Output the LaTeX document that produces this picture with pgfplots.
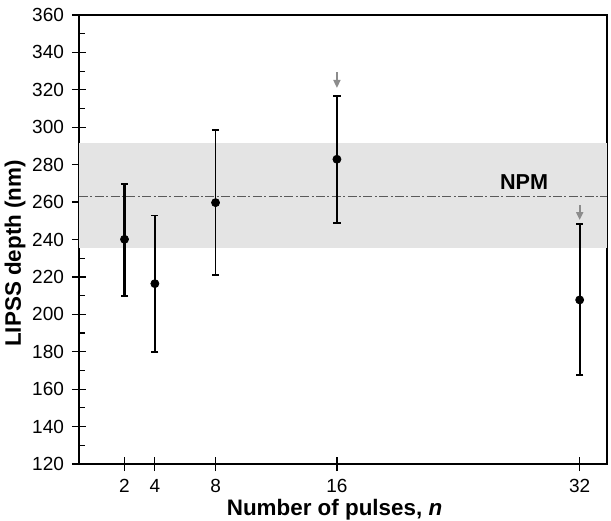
\documentclass[border=0pt]{standalone}
\usepackage{pgfplots}
\pgfplotsset{compat=1.18}
\usepackage{fontspec}
\setmainfont{Liberation Sans}
\usetikzlibrary{calc,arrows.meta}
\definecolor{bandgray}{HTML}{E4E4E4}
\definecolor{linegray}{HTML}{5A5A5A}
\definecolor{arrowgray}{HTML}{8C8C8C}
\begin{document}
\begin{tikzpicture}
\begin{axis}[
  scale only axis,
  width=264pt, height=224.5pt,
  xmin=-1, xmax=33.8, ymin=120, ymax=360,
  xtick={2,4,8,16,32},
  ytick={120,140,...,360},
  minor y tick num=1,
  xtick pos=left, ytick pos=left,
  tick align=center,
  major tick length=7pt,
  minor tick length=3pt,
  every tick/.style={black, line width=0.6pt},
  every minor tick/.append style={xshift=1.5pt},
  axis line style={line width=0.65pt},
  /pgf/number format/assume math mode=true,
  ticklabel style={font=\fontsize{9.5}{11}\selectfont},
  yticklabel style={xshift=-0.5pt},
  xticklabel style={yshift=-0.5pt},
  xlabel={\textbf{Number of pulses, \textit{n}}},
  ylabel={\textbf{LIPSS depth (nm)}},
  every axis x label/.style={at={(axis description cs:0.484,0)}, yshift=-25.5pt, anchor=base, font=\fontsize{11.2}{12}\selectfont},
  every axis y label/.style={at={(axis description cs:0,0.469)}, xshift=-32pt, rotate=90, anchor=center, font=\fontsize{11.2}{12}\selectfont},
  clip=false,
]
\addplot[draw=none, fill=bandgray] coordinates {(-1,235.3) (33.8,235.3) (33.8,291.7) (-1,291.7)} -- cycle;
\addplot[linegray, line width=0.5pt, dash pattern=on 4.5pt off 1.2pt on 1pt off 1.2pt] coordinates {(-1,263) (33.8,263)};
\addplot[black, only marks, mark=*, mark size=2pt,
  error bars/.cd, y dir=both, y explicit,
  error bar style={line width=1.1pt},
  error mark options={rotate=90, mark size=1.8pt, line width=0.9pt}]
  coordinates {(2,240.1) += (0,29.4) -= (0,30.1)};
\addplot[black, only marks, mark=*, mark size=2pt,
  error bars/.cd, y dir=both, y explicit,
  error bar style={line width=0.85pt},
  error mark options={rotate=90, mark size=1.8pt, line width=0.85pt}]
  coordinates {
  (4,216.4) += (0,36.5) -= (0,36.7)
  (8,259.7) += (0,38.7) -= (0,38.7)
  (16,282.9) += (0,33.8) -= (0,33.9)
  (32,207.7) += (0,40.6) -= (0,40.1)
  };
\addplot[arrowgray, line width=0.9pt, -{Triangle[width=3.5pt,length=4pt]}] coordinates {(16,329.5) (16,321)};
\addplot[arrowgray, line width=0.9pt, -{Triangle[width=3.5pt,length=4pt]}] coordinates {(32,258.4) (32,250.4)};
\node[font=\bfseries\fontsize{10.8}{12}\selectfont] at (axis cs:28.33,270.7) {NPM};
\end{axis}
\pgfresetboundingbox
\path[use as bounding box] ($(current axis.south west)+(-39.5pt,-28pt)$) rectangle ($(current axis.north east)+(2pt,7.5pt)$);
\end{tikzpicture}
\end{document}
